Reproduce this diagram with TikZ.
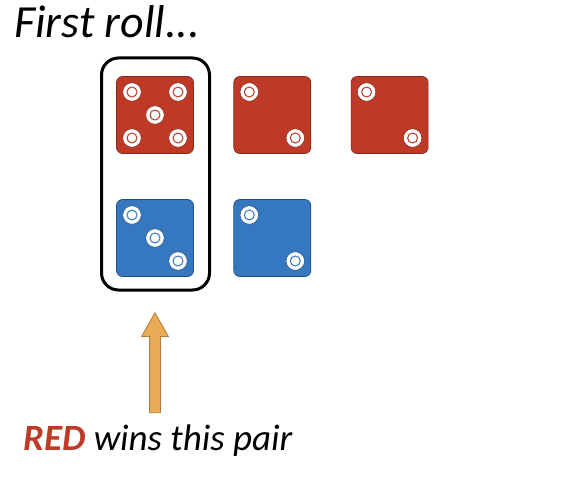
\documentclass[tikz,border=0pt]{standalone}
\usepackage{fontspec}
\setmainfont{Carlito}
\usetikzlibrary{positioning, calc, shapes.arrows}
\definecolor{DieRed}{HTML}{BE3A26}
\definecolor{DieRedEdge}{HTML}{7F2A1C}
\definecolor{DieBlue}{HTML}{3678C0}
\definecolor{DieBlueEdge}{HTML}{1F4E85}
\definecolor{ArrowFill}{HTML}{E9AB55}
\definecolor{ArrowEdge}{HTML}{B67D38}
\tikzset{
  die/.style={
    rectangle, draw=#1Edge, fill=#1, line width=0.7pt,
    minimum size=77pt, inner sep=0pt, rounded corners=6pt
  },
  pipouter/.style={
    circle, draw=#1Edge, fill=white, line width=0.5pt,
    minimum size=18.5pt, inner sep=0pt
  },
  pipinner/.style={
    circle, draw=#1, fill=white, line width=1pt,
    minimum size=10pt, inner sep=0pt
  },
  uparrow/.style={
    single arrow, draw=ArrowEdge, fill=ArrowFill, line width=0.8pt,
    minimum height=100pt, minimum width=26pt, inner sep=5pt,
    single arrow head extend=8pt, single arrow tip angle=59,
    single arrow head indent=0pt, shape border rotate=90
  },
  caption/.style={
    anchor=west, inner sep=0pt, font=\itshape
  }
}
\newcommand{\dicepip}[4]{%
  \node[pipouter=#2] (#1o#3#4) at ($(#1)+(#3,#4)$) {};
  \node[pipinner=#2] at (#1o#3#4) {};
}

\begin{document}
\begin{tikzpicture}[x=1pt, y=-1pt]
\useasboundingbox (0,0) rectangle (570,500);

% dice, red row then blue row
\node[die=DieRed] (redA) at (155,115) {};
\node[die=DieRed, right=39.6pt of redA] (redB) {};
\node[die=DieRed, right=39.6pt of redB] (redC) {};
\node[die=DieBlue, below=45.3pt of redA] (blueA) {};
\node[die=DieBlue, right=39.6pt of blueA] (blueB) {};

% pips
\foreach \px/\py in {-23/-23, 23/-23, 0/0, -23/23, 23/23} {\dicepip{redA}{DieRed}{\px}{\py}}
\foreach \px/\py in {-23/-23, 23/23} {\dicepip{redB}{DieRed}{\px}{\py}}
\foreach \px/\py in {-23/-23, 23/23} {\dicepip{redC}{DieRed}{\px}{\py}}
\foreach \px/\py in {-23/-23, 0/0, 23/23} {\dicepip{blueA}{DieBlue}{\px}{\py}}
\foreach \px/\py in {-23/-23, 23/23} {\dicepip{blueB}{DieBlue}{\px}{\py}}

% box round the first pair
\node[draw=black, line width=3pt, rounded corners=17pt, minimum width=108pt, minimum height=232pt, inner sep=0pt] (pairbox) at (155.5,174) {};

% arrow and labels
\node[uparrow] (pointer) at (155,367.5) {};
\node[caption, font=\itshape\fontsize{46}{46}\selectfont] (title) at (14,22) {First roll.{}.{}.};
\node[caption, font=\itshape\fontsize{37}{37}\selectfont] (result) at (23,441) {\textcolor{DieRed}{\textbf{RED}} wins this pair};

\end{tikzpicture}
\end{document}
